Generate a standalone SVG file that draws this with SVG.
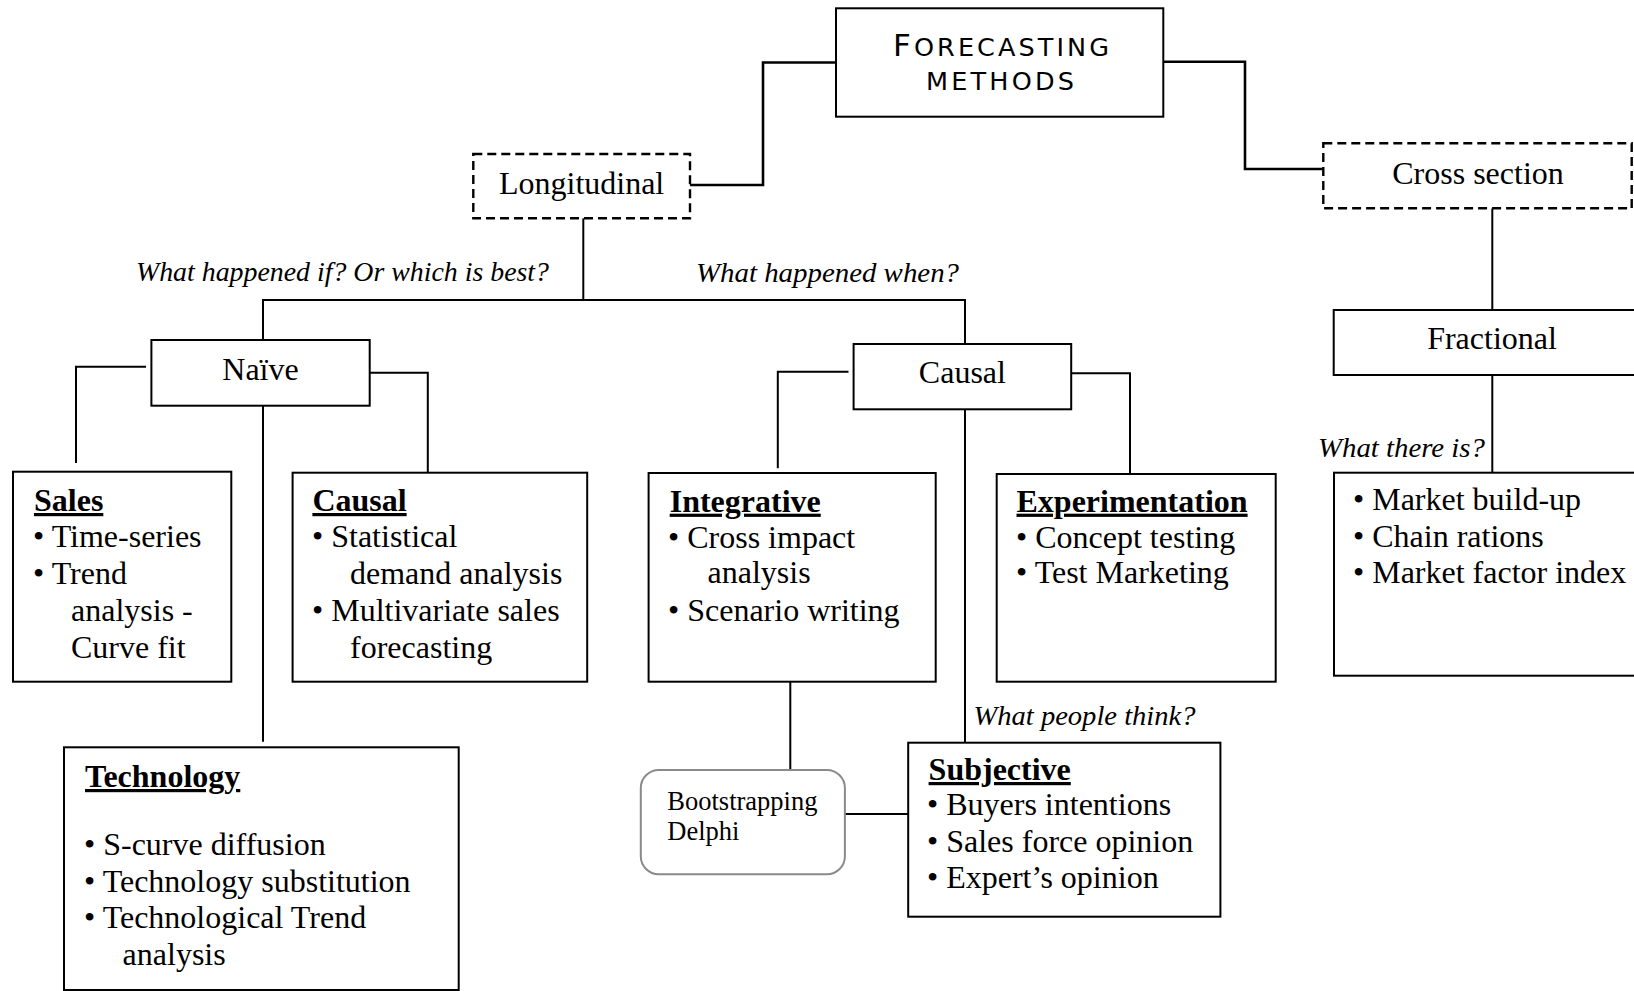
<svg xmlns="http://www.w3.org/2000/svg" width="1634" height="991" viewBox="0 0 1634 991">
  <style>
    .box { fill: #ffffff; stroke: #000000; stroke-width: 2; }
    .dash { fill: #ffffff; stroke: #000000; stroke-width: 2.4; stroke-dasharray: 9 5; }
    .soft { fill: #ffffff; stroke: #8a8a8a; stroke-width: 2; }
    .wire { fill: none; stroke: #000000; stroke-width: 2; }
    .main { fill: none; stroke: #000000; stroke-width: 2.6; }
    .t { font-family: "Liberation Serif", "Times New Roman", serif; font-size: 32px; fill: #000000; }
    .h { font-family: "Liberation Serif", "Times New Roman", serif; font-size: 32px; font-weight: bold; fill: #000000;
         text-decoration: underline; text-decoration-thickness: 2.6px; text-underline-offset: 4px; }
    .q { font-family: "Liberation Serif", "Times New Roman", serif; font-size: 28px; font-style: italic; fill: #000000; }
    .sc { font-family: "DejaVu Sans", "Liberation Sans", sans-serif; fill: #000000; }
    .small { font-family: "Liberation Serif", "Times New Roman", serif; font-size: 26.5px; fill: #000000; }
  </style>

  <!-- connectors -->
  <g id="connectors">
    <path class="main" d="M836,62.5 H763 V185 H690"/>
    <path class="main" d="M1163,61.7 H1245 V169 H1323"/>
    <path class="wire" d="M583.3,218 V300"/>
    <path class="wire" d="M263,340 V300 H965 V344"/>
    <path class="wire" d="M146,366.7 H76 V463"/>
    <path class="wire" d="M369.7,372.7 H427.8 V472.7"/>
    <path class="wire" d="M263,405.7 V741.7"/>
    <path class="wire" d="M848.5,371.7 H777.8 V468.3"/>
    <path class="wire" d="M1071.2,373.3 H1130 V474"/>
    <path class="wire" d="M965,409.3 V742.7"/>
    <path class="wire" d="M790.3,681.7 V770"/>
    <path class="wire" d="M845,814 H908.2"/>
    <path class="wire" d="M1492.3,208.3 V310"/>
    <path class="wire" d="M1492.3,375 V472.7"/>
  </g>

  <!-- root -->
  <g id="forecasting">
    <rect class="box" x="836" y="8.3" width="327.3" height="108.4"/>
    <text class="sc" x="893" y="56" textLength="216" lengthAdjust="spacing"><tspan font-size="31">F</tspan><tspan font-size="25.5">ORECASTING</tspan></text>
    <text class="sc" x="926" y="90" font-size="25.5" textLength="148" lengthAdjust="spacing">METHODS</text>
  </g>

  <g id="longitudinal">
    <rect class="dash" x="473.3" y="154" width="216.7" height="64.3"/>
    <text class="t" x="581.6" y="194" text-anchor="middle">Longitudinal</text>
  </g>

  <g id="cross-section">
    <rect class="dash" x="1323.3" y="143.3" width="308.4" height="65"/>
    <text class="t" x="1478" y="183.5" text-anchor="middle">Cross section</text>
  </g>

  <g id="fractional">
    <rect class="box" x="1333.7" y="310" width="320" height="65"/>
    <text class="t" x="1492" y="349" text-anchor="middle">Fractional</text>
  </g>

  <g id="market">
    <rect class="box" x="1334" y="472.7" width="320" height="203"/>
    <text class="t" x="1353" y="510">• Market build-up</text>
    <text class="t" x="1353" y="546.7">• Chain rations</text>
    <text class="t" x="1353" y="583.3">• Market factor index</text>
  </g>

  <g id="naive">
    <rect class="box" x="151.4" y="340" width="218.3" height="65.7"/>
    <text class="t" x="260.5" y="380" text-anchor="middle">Naïve</text>
  </g>

  <g id="sales">
    <rect class="box" x="13" y="471.7" width="218.3" height="210"/>
    <text class="h" x="34" y="511">Sales</text>
    <text class="t" x="33" y="547">• Time-series</text>
    <text class="t" x="33" y="584">• Trend</text>
    <text class="t" x="71" y="621">analysis -</text>
    <text class="t" x="71" y="658">Curve fit</text>
  </g>

  <g id="causal-naive">
    <rect class="box" x="292.6" y="472.7" width="294.6" height="209"/>
    <text class="h" x="312.4" y="511">Causal</text>
    <text class="t" x="312" y="547">• Statistical</text>
    <text class="t" x="350" y="584">demand analysis</text>
    <text class="t" x="312" y="621">• Multivariate sales</text>
    <text class="t" x="350" y="658">forecasting</text>
  </g>

  <g id="technology">
    <rect class="box" x="64" y="747.3" width="394.7" height="242.7"/>
    <text class="h" x="85" y="787">Technology</text>
    <text class="t" x="84" y="855">• S-curve diffusion</text>
    <text class="t" x="84" y="891.7">• Technology substitution</text>
    <text class="t" x="84" y="928.3">• Technological Trend</text>
    <text class="t" x="122.6" y="965">analysis</text>
  </g>

  <g id="causal">
    <rect class="box" x="853.6" y="344" width="217.6" height="65.3"/>
    <text class="t" x="962.4" y="383.3" text-anchor="middle">Causal</text>
  </g>

  <g id="integrative">
    <rect class="box" x="648.6" y="473" width="287.1" height="208.7"/>
    <text class="h" x="669.7" y="511.7">Integrative</text>
    <text class="t" x="668" y="547.7">• Cross impact</text>
    <text class="t" x="707.5" y="583.3">analysis</text>
    <text class="t" x="668" y="620.7">• Scenario writing</text>
  </g>

  <g id="experimentation">
    <rect class="box" x="996.7" y="474" width="279" height="207.7"/>
    <text class="h" x="1016.5" y="511.7">Experimentation</text>
    <text class="t" x="1016" y="547.7">• Concept testing</text>
    <text class="t" x="1016" y="583.3">• Test Marketing</text>
  </g>

  <g id="bootstrapping">
    <rect class="soft" x="640.8" y="770" width="204.1" height="104.3" rx="18" ry="18"/>
    <text class="small" x="667.3" y="810">Bootstrapping</text>
    <text class="small" x="667.3" y="840">Delphi</text>
  </g>

  <g id="subjective">
    <rect class="box" x="908.2" y="742.7" width="312.2" height="174"/>
    <text class="h" x="928.6" y="780">Subjective</text>
    <text class="t" x="927" y="815">• Buyers intentions</text>
    <text class="t" x="927" y="851.7">• Sales force opinion</text>
    <text class="t" x="927" y="888.3">• Expert’s opinion</text>
  </g>

  <!-- question labels on the branches -->
  <g id="labels">
    <text class="q" x="136" y="281" textLength="413" lengthAdjust="spacingAndGlyphs">What happened if? Or which is best?</text>
    <text class="q" x="696" y="281.7" textLength="263" lengthAdjust="spacingAndGlyphs">What happened when?</text>
    <text class="q" x="973.5" y="725" textLength="222" lengthAdjust="spacingAndGlyphs">What people think?</text>
    <text class="q" x="1318" y="457" textLength="167" lengthAdjust="spacingAndGlyphs">What there is?</text>
  </g>
</svg>
